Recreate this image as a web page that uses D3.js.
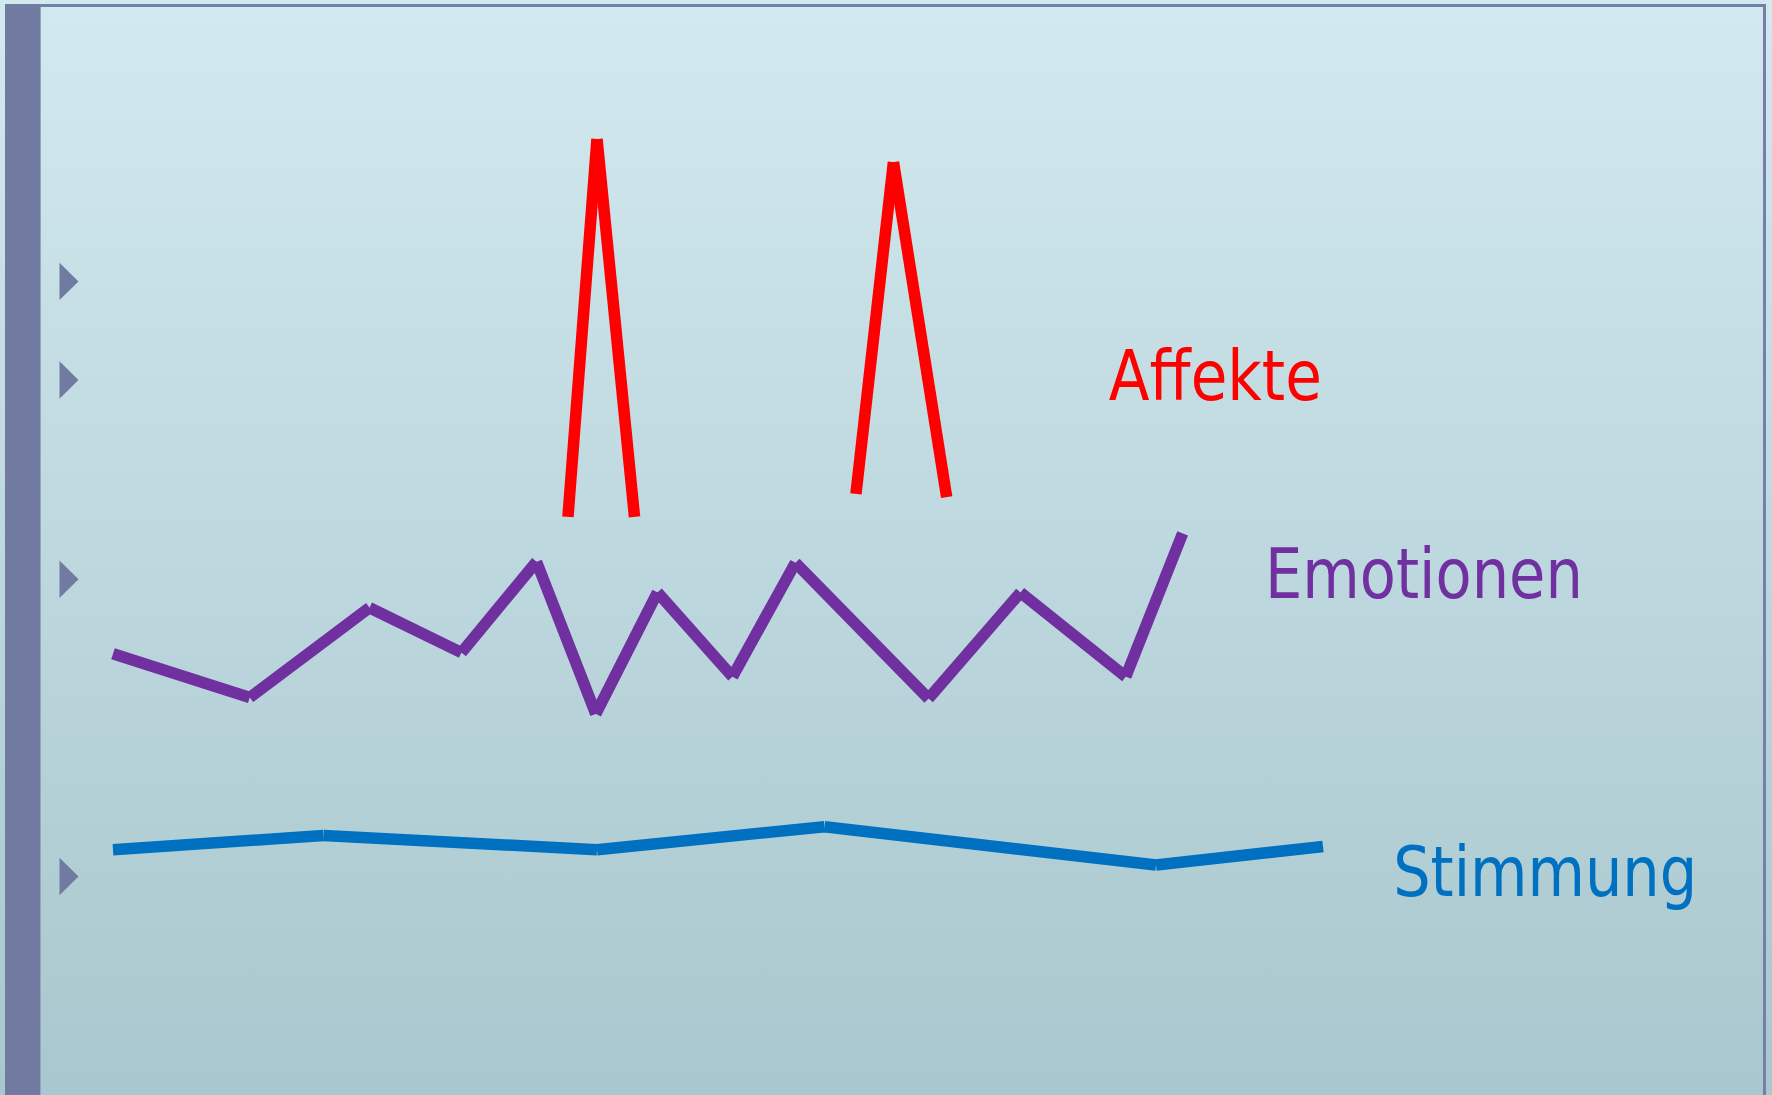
<!DOCTYPE html>
<html>
<head>
<meta charset="utf-8">
<script src="https://cdn.jsdelivr.net/npm/d3@7"></script>
<style>
  html, body { margin: 0; padding: 0; overflow: hidden; background: #c6dfe5; }
  svg { display: block; }
</style>
</head>
<body>
<svg id="chart" width="1772" height="1095"></svg>
<script>
// ---- data (x: time units 0..100, y: intensity 0..100) ----
const seriesNames = ["Affekte", "Emotionen", "Stimmung"];
const seriesColors = ["#FF0000", "#7030A0", "#0070C0"];

// Affekte: two short spikes (separate episodes)
const affekt1X = [37.6, 40.0, 43.1];
const affekt1Y = [52.8, 87.3, 52.8];
const affekt2X = [61.4, 64.5, 68.9];
const affekt2Y = [54.9, 85.2, 54.6];

// Emotionen
const emoX = [0, 11.3, 21.2, 28.8, 35.0, 39.9, 45.0, 51.2, 56.4, 67.4, 75.0, 83.7, 88.4];
const emoY = [40.3, 36.3, 44.5, 40.4, 48.7, 34.8, 45.9, 38.2, 48.6, 36.2, 45.9, 38.2, 51.3];

// Stimmung
const stimX = [0, 17.4, 40.0, 58.8, 86.2, 100];
const stimY = [22.4, 23.7, 22.4, 24.5, 21.0, 22.7];

// level markers on the left
const markerLevels = [74.3, 65.3, 47.1, 19.95];

// label anchor positions (data units)
const labelX = [82.3, 95.2, 105.8];
const labelY = [63.5, 45.4, 18.2];

// ---- drawing ----
const W = 1772, H = 1095;
const svg = d3.select("#chart");
const x = d3.scaleLinear().domain([0, 100]).range([113, 1323]);
const y = d3.scaleLinear().domain([0, 100]).range([H, 0]);

const defs = svg.append("defs");
const grad = defs.append("linearGradient").attr("id", "bg")
  .attr("x1", 0).attr("y1", 0).attr("x2", 0).attr("y2", 1);
grad.append("stop").attr("offset", "0%").attr("stop-color", "#d2e9ef");
grad.append("stop").attr("offset", "100%").attr("stop-color", "#a9c7ce");

svg.append("rect").attr("x", 0).attr("y", 0).attr("width", W).attr("height", H)
  .attr("fill", "url(#bg)");

// frame
svg.append("rect").attr("x", 5).attr("y", 4).attr("width", 1761).attr("height", 3).attr("fill", "#7480a8");
svg.append("rect").attr("x", 1763).attr("y", 4).attr("width", 3).attr("height", H).attr("fill", "#7480a8");
svg.append("rect").attr("x", 5).attr("y", 4).attr("width", 35).attr("height", H).attr("fill", "#717aa0");
svg.append("rect").attr("x", 40).attr("y", 7).attr("width", 1).attr("height", H).attr("fill", "#97a3c2");

// markers
svg.append("g").selectAll("path").data(markerLevels).join("path")
  .attr("d", d => {
    const cy = y(d);
    return `M59.5,${cy - 18.7}L78.5,${cy}L59.5,${cy + 18.7}Z`;
  })
  .attr("fill", "#717aa0");

// segment helper: each step is its own stroke with butt ends
function segments(xs, ys) {
  const out = [];
  for (let i = 0; i < xs.length - 1; i++) out.push([xs[i], ys[i], xs[i + 1], ys[i + 1]]);
  return out;
}
function drawSeries(xs, ys, color) {
  svg.append("g").selectAll("line").data(segments(xs, ys)).join("line")
    .attr("x1", d => x(d[0])).attr("y1", d => y(d[1]))
    .attr("x2", d => x(d[2])).attr("y2", d => y(d[3]))
    .attr("stroke", color).attr("stroke-width", 11.5).attr("stroke-linecap", "butt");
}
drawSeries(stimX, stimY, seriesColors[2]);
drawSeries(emoX, emoY, seriesColors[1]);
drawSeries(affekt1X, affekt1Y, seriesColors[0]);
drawSeries(affekt2X, affekt2Y, seriesColors[0]);

// labels
const labelWidths = [213, 318, 304];
svg.append("g").selectAll("text").data(seriesNames).join("text")
  .attr("x", (d, i) => x(labelX[i]))
  .attr("y", (d, i) => y(labelY[i]))
  .attr("fill", (d, i) => seriesColors[i])
  .attr("font-family", "'DejaVu Sans', Verdana, sans-serif")
  .attr("font-size", 70)
  .attr("textLength", (d, i) => labelWidths[i])
  .attr("lengthAdjust", "spacingAndGlyphs")
  .text(d => d);
</script>
</body>
</html>
